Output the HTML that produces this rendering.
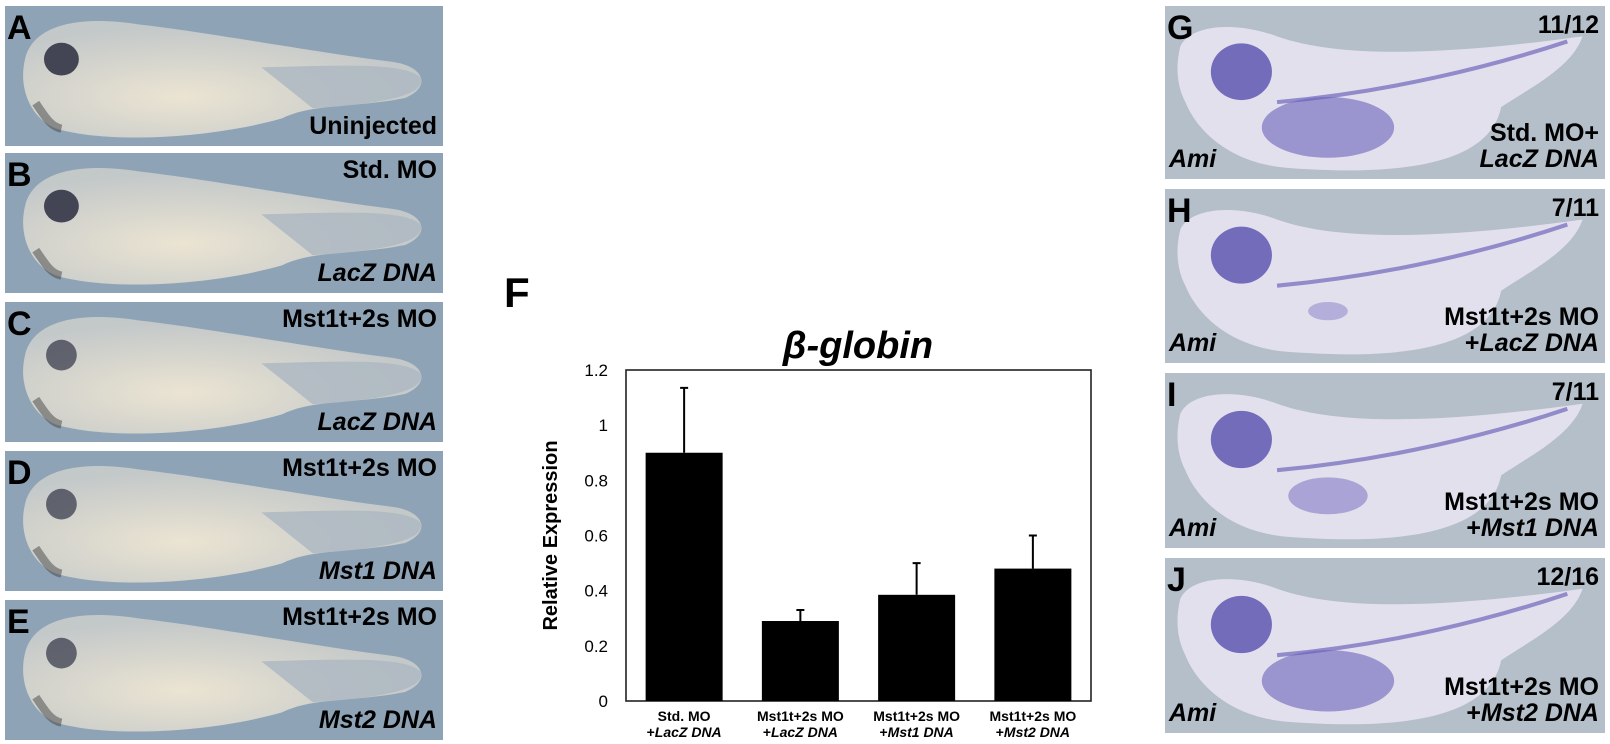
<!DOCTYPE html>
<html><head><meta charset="utf-8">
<style>
body{margin:0;width:1610px;height:744px;background:#fff;position:relative;overflow:hidden;font-family:"Liberation Sans",sans-serif}
.p{position:absolute;overflow:hidden}
.p svg{position:absolute;left:0;top:0}
.t{position:absolute;font-weight:bold;color:#000;font-size:25px;line-height:26px}
.L{font-size:34px;font-weight:bold;position:absolute;line-height:34px}
.r{text-align:right}
i{font-style:italic}
</style></head><body>
<div id="left"></div>
<div id="right"></div>
<svg id="chart" width="1610" height="744" style="position:absolute;left:0;top:0;pointer-events:none"></svg>
<script>
const categories=[["Std. MO","+","LacZ DNA"],["Mst1t+2s MO","+","LacZ DNA"],["Mst1t+2s MO","+","Mst1 DNA"],["Mst1t+2s MO","+","Mst2 DNA"]];
const values=[0.9,0.29,0.385,0.48];
const errorTops=[1.135,0.33,0.5,0.6];
const yTicks=[0,0.2,0.4,0.6,0.8,1,1.2];
const yTickLabels=["0","0.2","0.4","0.6","0.8","1","1.2"];

const NS="http://www.w3.org/2000/svg";
const svg=document.getElementById('chart');
const X0=626,X1=1091,Y0=701,Y1=370,YMAX=1.2;
const y=v=>Y0-(v/YMAX)*(Y0-Y1);
const band=(X1-X0)/categories.length;
const xc=i=>X0+band*(i+0.5);
const bw=77;
function mk(tag,attrs){const e=document.createElementNS(NS,tag);for(const k in attrs)e.setAttribute(k,attrs[k]);svg.appendChild(e);return e;}
const F=mk('text',{x:504,y:307,'font-size':42,'font-weight':'bold','font-family':'Liberation Sans'});
F.textContent='F';


const box=mk('rect',{x:X0,y:Y1,width:X1-X0,height:Y0-Y1,fill:'none',stroke:'#222','stroke-width':1.6});


yTicks.forEach((v,i)=>{
  const t=mk('text',{x:608,y:y(v)+6,'text-anchor':'end','font-size':17,'font-family':'Liberation Sans'});
  t.textContent=yTickLabels[i];
  
  
});
values.forEach((v,i)=>{
  const b=mk('rect',{x:xc(i)-bw/2,y:y(v),width:bw,height:Y0-y(v),fill:'#000'});
  
  
  const e=mk('path',{d:`M${xc(i)},${y(v)}V${y(errorTops[i])}M${xc(i)-4},${y(errorTops[i])}H${xc(i)+4}`,stroke:'#000','stroke-width':2,fill:'none'});
  
  
  const l1=mk('text',{x:xc(i),y:721,'text-anchor':'middle','font-size':14,'font-weight':'bold','font-family':'Liberation Sans'});
  l1.textContent=categories[i][0];
  
  
  const l2=mk('text',{x:xc(i),y:737,'text-anchor':'middle','font-size':14,'font-weight':'bold','font-family':'Liberation Sans'});
  const s1=document.createElementNS(NS,'tspan');s1.textContent=categories[i][1];l2.appendChild(s1);
  const s2=document.createElementNS(NS,'tspan');s2.setAttribute('font-style','italic');s2.textContent=categories[i][2];l2.appendChild(s2);
  
  
});
const yt=mk('text',{x:0,y:0,transform:`translate(557,${(Y0+Y1)/2}) rotate(-90)`,'text-anchor':'middle','font-size':20,'font-weight':'bold','font-family':'Liberation Sans'});
yt.textContent='Relative Expression';


const tt=mk('text',{x:858,y:358,'text-anchor':'middle','font-size':38,'font-weight':'bold','font-style':'italic','font-family':'Liberation Sans'});
tt.textContent='β-globin';



function embryoL(w,h,dark){
  return `<svg width="${w}" height="${h}" viewBox="0 0 427 137" preserveAspectRatio="none"><defs><radialGradient id="g${dark}" cx="0.4" cy="0.65" r="0.6"><stop offset="0" stop-color="#ebe4d2"/><stop offset="1" stop-color="#c3c8c9"/></radialGradient></defs>
  <rect width="427" height="137" fill="#8fa3b6"/>
  <path d="M20,50 C30,15 80,10 130,18 C200,26 300,45 380,55 C410,60 415,80 390,90 C340,100 300,95 270,110 C200,130 100,135 50,120 C25,110 12,80 20,50Z" fill="url(#g${dark})"/>
  <path d="M250,60 C330,58 390,55 405,70 C410,85 380,95 300,100 Z" fill="#aeb9c2" opacity="0.85"/>
  <ellipse cx="55" cy="52" rx="${dark?15:17}" ry="${dark?15:16}" fill="#3b3d4d" opacity="${dark?0.75:0.95}"/>
  <path d="M30,95 C40,110 45,118 55,120" stroke="#444" stroke-width="8" fill="none" opacity="0.5"/></svg>`;
}
function embryoR(w,h,s){
  return `<svg width="${w}" height="${h}" viewBox="0 0 432 171" preserveAspectRatio="none"><rect width="432" height="171" fill="#b4bfca"/>
  <path d="M15,40 C25,18 70,15 110,30 C180,55 300,45 410,30 C400,60 360,80 330,100 C320,150 250,170 120,160 C60,155 30,120 20,95 C12,80 10,60 15,40Z" fill="#e3e0ee"/>
  <ellipse cx="75" cy="65" rx="30" ry="28" fill="#5e57b2" opacity="0.85"/>
  <path d="M110,95 C220,85 320,60 395,35" stroke="#6f66bb" stroke-width="4" fill="none" opacity="0.7"/>
  <ellipse cx="160" cy="120" rx="${65*s}" ry="${30*s}" fill="#6a62bb" opacity="${0.3+0.3*s}"/></svg>`;
}
const left=[["A",6,140,"",""],["B",153,140,"Std. MO","<i>LacZ DNA</i>"],["C",302,140,"Mst1t+2s MO","<i>LacZ DNA</i>"],["D",451,140,"Mst1t+2s MO","<i>Mst1 DNA</i>"],["E",600,140,"Mst1t+2s MO","<i>Mst2 DNA</i>"]];
let html='';
left.forEach((p,k)=>{
  html+=`<div class="p" style="left:5px;top:${p[1]}px;width:438px;height:${p[2]}px">${embryoL(438,p[2],k>=2?1:0)}
  <div class="L" style="left:2px;top:5px">${p[0]}</div>
  ${k==0?`<div class="t" style="right:6px;bottom:7px">Uninjected</div>`:
  `<div class="t" style="right:6px;top:4px">${p[3]}</div><div class="t" style="right:6px;bottom:7px">${p[4]}</div>`}</div>`;
});
document.getElementById('left').innerHTML=html;
const right=[["G",6,173,"11/12","Std. MO+","<i>LacZ DNA</i>",1],["H",189,174,"7/11","Mst1t+2s MO","+<i>LacZ DNA</i>",0.3],["I",373,175,"7/11","Mst1t+2s MO","+<i>Mst1 DNA</i>",0.6],["J",558,175,"12/16","Mst1t+2s MO","+<i>Mst2 DNA</i>",1]];
html='';
right.forEach(p=>{
  html+=`<div class="p" style="left:1165px;top:${p[1]}px;width:440px;height:${p[2]}px">${embryoR(440,p[2],p[6])}
  <div class="L" style="left:2px;top:5px">${p[0]}</div>
  <div class="t" style="right:6px;top:6px">${p[3]}</div>
  <div class="t" style="left:4px;bottom:7px"><i>Ami</i></div>
  <div class="t r" style="right:6px;bottom:7px">${p[4]}<br>${p[5]}</div></div>`;
});
document.getElementById('right').innerHTML=html;
</script>
</body></html>
